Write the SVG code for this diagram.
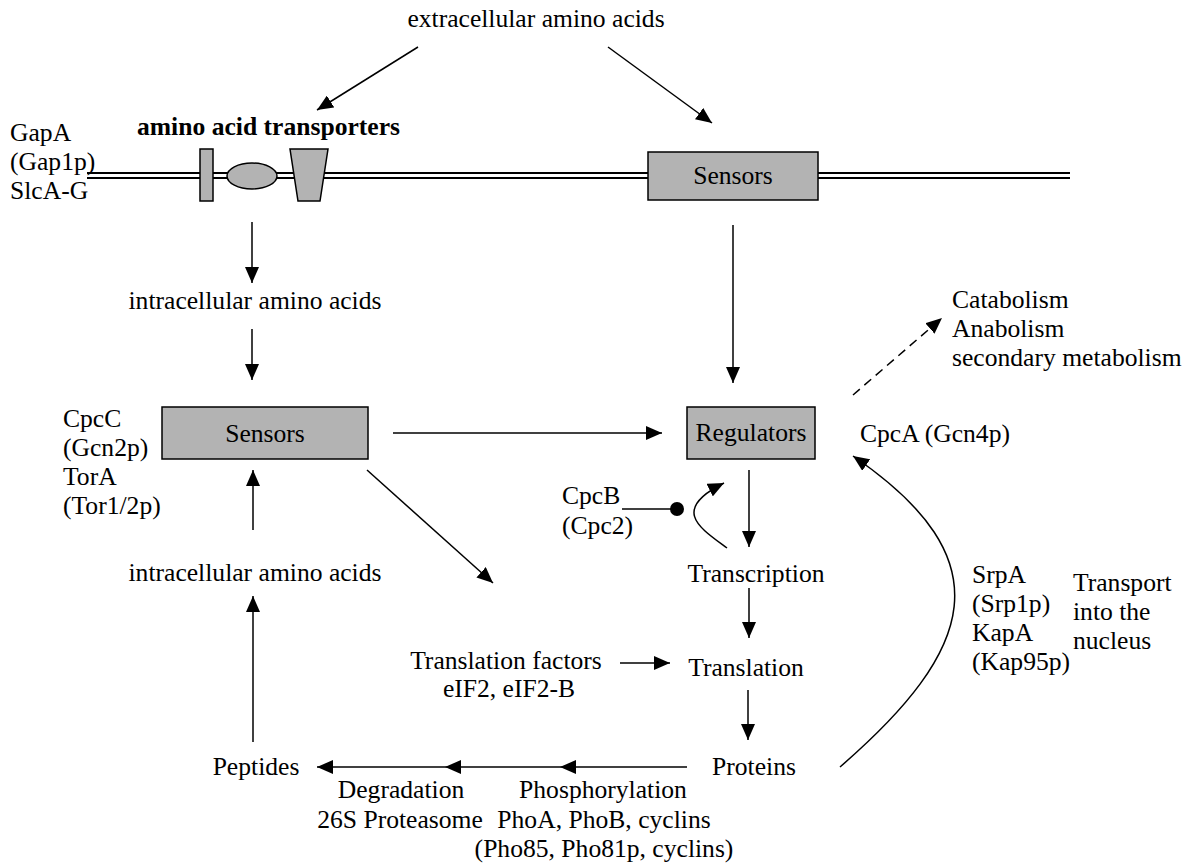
<svg xmlns="http://www.w3.org/2000/svg" width="1188" height="866" viewBox="0 0 1188 866">
<style>
text{font-family:"Liberation Serif","Times New Roman",serif;font-size:25.6px;fill:#000}
.b{font-weight:bold}
.m{text-anchor:middle}
.box{fill:#b3b3b3;stroke:#000;stroke-width:1.5}
.ln{stroke:#000;stroke-width:1.5;fill:none}
.ar{marker-end:url(#ah)}
.dash{stroke-dasharray:9 6}
.mem{stroke:#000;stroke-width:2;fill:none}
</style>
<defs>
<marker id="ah" markerUnits="userSpaceOnUse" markerWidth="17" markerHeight="14" refX="16" refY="7" orient="auto">
<path d="M0,0 L16,7 L0,14 z" fill="#000"/>
</marker>
</defs>
<rect width="1188" height="866" fill="#fff"/>
<g id="membrane">
<line class="mem" x1="87" y1="173" x2="1070" y2="173"/>
<line class="mem" x1="87" y1="178" x2="1070" y2="178"/>
</g>
<g id="transporters">
<rect class="box" x="200" y="149" width="13" height="52"/>
<ellipse class="box" cx="252" cy="176" rx="25" ry="13"/>
<path class="box" d="M290,149 L328,149 L320,201 L298,201 z"/>
<text class="b" x="137" y="135">amino acid transporters</text>
</g>
<g id="gapA">
<text x="10" y="141">GapA</text>
<text x="10" y="170">(Gap1p)</text>
<text x="10" y="199">SlcA-G</text>
</g>
<g id="extracellular"><text class="m" x="536" y="27">extracellular amino acids</text></g>
<g id="sensors-top">
<rect class="box" x="648" y="152" width="170" height="48"/>
<text class="m" x="733" y="184">Sensors</text>
</g>
<g id="intracellular-1"><text class="m" x="255" y="309">intracellular amino acids</text></g>
<g id="sensors-left">
<rect class="box" x="162" y="407" width="206" height="52"/>
<text class="m" x="265" y="442">Sensors</text>
</g>
<g id="cpcC">
<text x="63" y="427">CpcC</text>
<text x="63" y="456">(Gcn2p)</text>
<text x="63" y="485">TorA</text>
<text x="63" y="514">(Tor1/2p)</text>
</g>
<g id="regulators">
<rect class="box" x="687" y="407" width="128" height="52"/>
<text class="m" x="751" y="441">Regulators</text>
</g>
<g id="catabolism">
<text x="952" y="308">Catabolism</text>
<text x="952" y="337">Anabolism</text>
<text x="952" y="366">secondary metabolism</text>
</g>
<g id="cpcA"><text x="860" y="442">CpcA (Gcn4p)</text></g>
<g id="cpcB">
<text x="562" y="504">CpcB</text>
<text x="562" y="534">(Cpc2)</text>
</g>
<g id="transcription"><text class="m" x="756" y="582">Transcription</text></g>
<g id="translation"><text class="m" x="746" y="676">Translation</text></g>
<g id="translation-factors">
<text class="m" x="506" y="669">Translation factors</text>
<text class="m" x="509" y="697">eIF2, eIF2-B</text>
</g>
<g id="proteins"><text class="m" x="754" y="775">Proteins</text></g>
<g id="intracellular-2"><text class="m" x="255" y="581">intracellular amino acids</text></g>
<g id="peptides"><text class="m" x="256" y="775">Peptides</text></g>
<g id="degradation">
<text class="m" x="401" y="798">Degradation</text>
<text class="m" x="400" y="828">26S Proteasome</text>
</g>
<g id="phosphorylation">
<text class="m" x="603" y="798">Phosphorylation</text>
<text class="m" x="604" y="828">PhoA, PhoB, cyclins</text>
<text class="m" x="604" y="857">(Pho85, Pho81p, cyclins)</text>
</g>
<g id="srpA">
<text x="972" y="583">SrpA</text>
<text x="972" y="612">(Srp1p)</text>
<text x="972" y="641">KapA</text>
<text x="972" y="670">(Kap95p)</text>
</g>
<g id="transport">
<text x="1073" y="591">Transport</text>
<text x="1073" y="620">into the</text>
<text x="1073" y="649">nucleus</text>
</g>
<g id="connectors">
<line class="ln ar" x1="418" y1="47" x2="317" y2="110"/>
<line class="ln ar" x1="608" y1="47" x2="712" y2="123"/>
<line class="ln ar" x1="252" y1="222" x2="252" y2="283"/>
<line class="ln ar" x1="252" y1="329" x2="252" y2="380"/>
<line class="ln ar" x1="733" y1="225" x2="733" y2="383"/>
<line class="ln ar" x1="393" y1="433" x2="662" y2="433"/>
<line class="ln ar dash" x1="853" y1="395" x2="942" y2="318"/>
<line class="ln ar" x1="367" y1="470" x2="493" y2="583"/>
<line class="ln ar" x1="749" y1="470" x2="749" y2="547"/>
<line class="ln" x1="622" y1="509" x2="672" y2="509"/>
<circle cx="677" cy="509" r="7" fill="#000"/>
<path class="ln ar" d="M727,548 C700,528 670,510 724,483"/>
<line class="ln ar" x1="749" y1="588" x2="749" y2="638"/>
<line class="ln ar" x1="620" y1="663" x2="670" y2="663"/>
<line class="ln ar" x1="748" y1="690" x2="748" y2="740"/>
<line class="ln ar" x1="687" y1="767" x2="560" y2="767"/>
<line class="ln ar" x1="560" y1="767" x2="445" y2="767"/>
<line class="ln ar" x1="445" y1="767" x2="317" y2="767"/>
<line class="ln ar" x1="253" y1="742" x2="253" y2="596"/>
<line class="ln ar" x1="253" y1="530" x2="253" y2="470"/>
<path class="ln ar" d="M840,767 C975,650 1005,560 853,456"/>
</g>
</svg>
